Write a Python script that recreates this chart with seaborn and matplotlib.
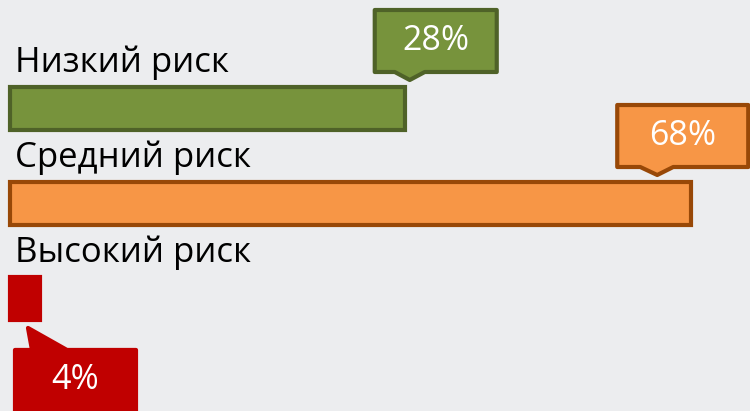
import matplotlib
matplotlib.use("Agg")
import matplotlib.pyplot as plt
import matplotlib.transforms as mtransforms
from matplotlib.patches import Polygon
import seaborn as sns
import pandas as pd

# data
categories = ["Низкий риск", "Средний риск", "Высокий риск"]
shares = [28, 68, 4]                    # labels in the callouts, %
bar_len = [52.7, 90.8, 4.0]             # drawn bar lengths (display scale, 100 = full width)
fills = ["#77933C", "#F79646", "#C00000"]
edges = ["#4F6228", "#984807", "#C00000"]

# callout layout: tip relative to bar end / bar centre, then box and tail in px around the tip
tip_dx = [0.6, -4.5, -1.6]
tip_dy = [-0.30, -0.30, 0.31]
box_px = [(-35, 87, 8, 70), (-40, 91, 8, 70), (-13, 108, -83, -22)]   # left, right, bottom, top
tail_px = [(-15, 15), (-17, 16), (4, 39)]                             # tail base x0, x1

sns.set_theme(style="white")
plt.rcParams["font.family"] = ["Open Sans", "DejaVu Sans"]

df = pd.DataFrame({"cat": categories, "len": bar_len})

fig = plt.figure(figsize=(7.5, 4.11), dpi=100)
fig.patch.set_facecolor("#ECEDEF")
ax = fig.add_axes([0, 0, 1, 1])
ax.set_facecolor("#ECEDEF")

sns.barplot(data=df, x="len", y="cat", hue="cat", palette=fills, legend=False,
            orient="h", width=0.45, saturation=1, ax=ax)

for bar, ec in zip(ax.patches, edges):
    bar.set_edgecolor(ec)
    bar.set_linewidth(3)

ax.set_xlim(-1.333, 98.667)
ax.set_ylim(3.184, -1.142)
ax.axis("off")

for i, cat in enumerate(categories):
    ax.text(0.67, i - 0.385, cat, fontsize=25, color="black", va="baseline", ha="left")

    # callout shape drawn in inches around the tip point
    tip = (bar_len[i] + tip_dx[i], i + tip_dy[i])
    tr = fig.dpi_scale_trans + mtransforms.ScaledTranslation(tip[0], tip[1], ax.transData)
    l, r, b, t = box_px[i]
    t0, t1 = tail_px[i]
    edge_y = b if b > 0 else t          # side of the box the tail leaves from
    far_y = t if b > 0 else b
    pts = [(l, edge_y), (t0, edge_y), (0, 0), (t1, edge_y), (r, edge_y), (r, far_y), (l, far_y)]
    pts = [(x / 100, y / 100) for x, y in pts]
    ax.add_patch(Polygon(pts, closed=True, transform=tr, fc=fills[i], ec=edges[i],
                         lw=3, joinstyle="round", zorder=5, clip_on=False))
    ax.text((l + r) / 200, (b + t) / 200, f"{shares[i]}%", transform=tr,
            ha="center", va="center", fontsize=24.5, color="white", zorder=6)

fig.savefig("out.png", dpi=100, facecolor=fig.get_facecolor())
